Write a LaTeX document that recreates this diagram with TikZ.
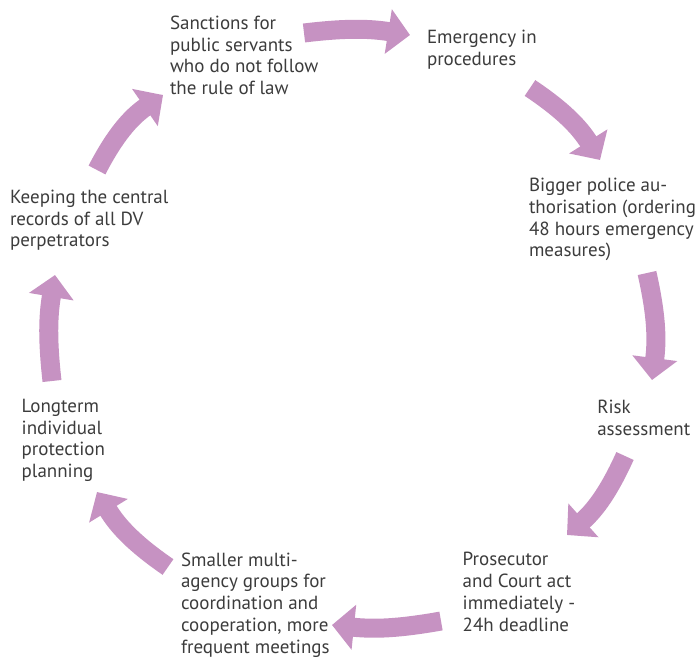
\documentclass[tikz,border=0pt]{standalone}
\usepackage{fontspec}
\setmainfont{PT Sans}
\usetikzlibrary{arrows.meta}
\definecolor{arrowpink}{RGB}{198,146,194}
\definecolor{textgray}{RGB}{60,60,60}
\begin{document}
\begin{tikzpicture}[x=1pt,y=-1pt,
  lbl/.style={anchor=base west,align=left,inner sep=0pt,outer sep=0pt,text=textgray,
    font=\fontsize{19}{21.7}\selectfont},
  cyc/.style={draw=arrowpink,line width=19pt,-{Triangle[length=22pt,width=44pt]}}]
\useasboundingbox (0,0) rectangle (699,659);
% labels (anchored at the baseline of their last line)
\node[lbl] (sanc) at (170,94.4) {Sanctions for\\public servants\\who do not follow\\the rule of law};
\node[lbl] (emer) at (427,65) {Emergency in\\procedures};
\node[lbl] (poli) at (529,256.8) {Bigger police au-\\thorisation (ordering\\48 hours emergency\\measures)};
\node[lbl] (risk) at (597.3,435) {Risk\\assessment};
\node[lbl] (pros) at (462.7,631) {Prosecutor\\and Court act\\immediately -\\24h deadline};
\node[lbl] (smal) at (181,653) {Smaller multi-\\agency groups for\\coordination and\\cooperation, more\\frequent meetings};
\node[lbl] (long) at (21.7,477.5) {Longterm\\individual\\protection\\planning};
\node[lbl] (keep) at (10,246.7) {Keeping the central\\records of all DV\\perpetrators};
% arrow ends
\coordinate (t1) at (304,33);  \coordinate (p1) at (410,35);
\coordinate (t2) at (530,88);  \coordinate (p2) at (600,160);
\coordinate (t3) at (647,273); \coordinate (p3) at (652,380);
\coordinate (t4) at (625,456); \coordinate (p4) at (567,535);
\coordinate (t5) at (441,621); \coordinate (p5) at (332,625);
\coordinate (t6) at (168,567); \coordinate (p6) at (97,492);
\coordinate (t7) at (52,381);  \coordinate (p7) at (55,275);
\coordinate (t8) at (97,170);  \coordinate (p8) at (163,95);
\draw[cyc] (t1) to[bend left=8] (p1);
\draw[cyc] (t2) to[bend left=12] (p2);
\draw[cyc] (t3) to[bend left=10] (p3);
\draw[cyc] (t4) to[bend left=12] (p4);
\draw[cyc] (t5) to[bend left=8] (p5);
\draw[cyc] (t6) to[bend left=12] (p6);
\draw[cyc] (t7) to[bend left=8] (p7);
\draw[cyc] (t8) to[bend left=14] (p8);
\end{tikzpicture}
\end{document}
